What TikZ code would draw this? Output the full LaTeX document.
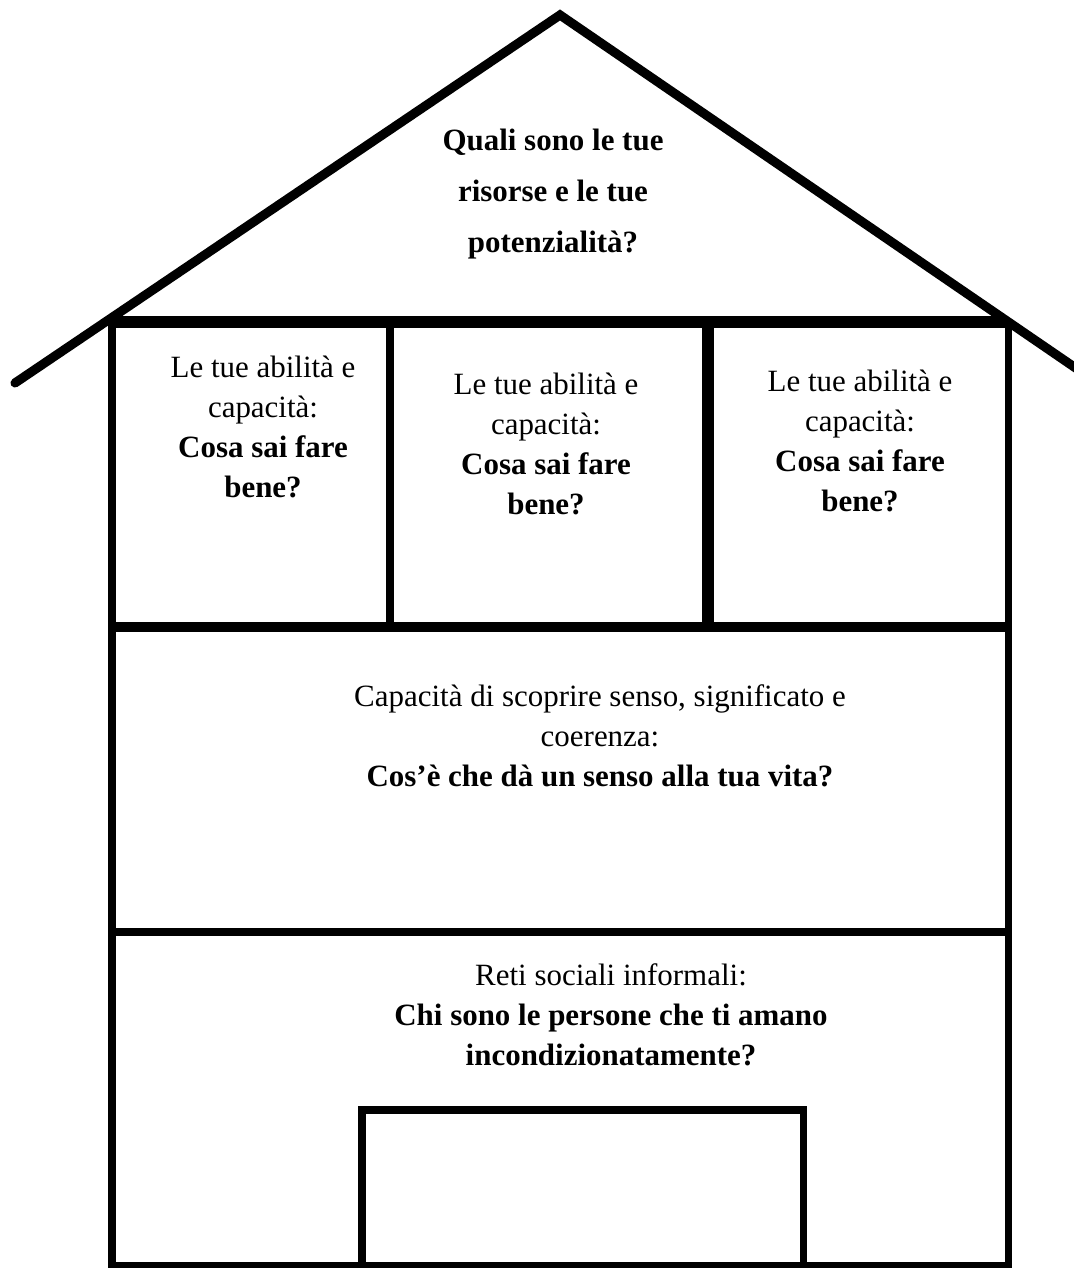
\documentclass[tikz,border=0pt]{standalone}
\usepackage{fontspec}
\setmainfont{Liberation Serif}
\usepackage{tikz}
\usetikzlibrary{positioning}
\tikzset{
  roof/.style={draw=black,line width=2.6pt,line cap=round,line join=miter},
  wall/.style={draw=black,line width=2pt},
  beam/.style={draw=black,line width=3.4pt},
  floorline/.style={draw=black,line width=2.6pt},
  ask/.style={align=center,inner sep=0pt,font=\fontsize{8.8}{11.3}\selectfont},
  roofask/.style={align=center,inner sep=0pt,font=\fontsize{8.8}{14.5}\selectfont\bfseries}
}

\begin{document}
\begin{tikzpicture}[x=0.01cm,y=-0.01cm]
  \useasboundingbox (0,0) rectangle (1073,1268);
  % corners of the house
  \coordinate (apex) at (560,15);
  \coordinate (eaveL) at (15,383);
  \coordinate (eaveR) at (1080,371);
  \coordinate (tl) at (112,322);
  \coordinate (tr) at (1008,322);
  \coordinate (bl) at (112,1266);
  \coordinate (br) at (1008,1266);
  \coordinate (m1) at (390,322);
  \coordinate (m2) at (708,322);
  \coordinate (d1) at (362,1266);
  \coordinate (d2) at (803,1266);

  % walls and roof
  \draw[wall] (tl) -- (bl) -- (br) -- (tr);
  \draw[roof] (eaveL) -- (apex) -- (eaveR);
  \draw[beam] (tl) -- (tr);
  \draw[floorline] (112,627) -- (1008,627);
  \draw[wall,line width=2.3pt] (112,932) -- (1008,932);
  \draw[wall] (m1) -- (m1 |- 0,627);
  \draw[beam] (m2) -- (m2 |- 0,627);
  % door
  \draw[wall] (d1) -- (362,1110) -- (803,1110) -- (d2);

  % texts
  \node[roofask] (res) at (553,194) {Quali sono le tue\\risorse e le tue\\potenzialità?};
  \node[ask] (abA) at (263,427) {Le tue abilità e\\capacità:\\\textbf{Cosa sai fare}\\\textbf{bene?}};
  \node[ask] (abB) at (546,444) {Le tue abilità e\\capacità:\\\textbf{Cosa sai fare}\\\textbf{bene?}};
  \node[ask] (abC) at (860,441) {Le tue abilità e\\capacità:\\\textbf{Cosa sai fare}\\\textbf{bene?}};
  \node[ask] (senso) at (600,736) {Capacità di scoprire senso, significato e\\coerenza:\\\textbf{Cos’è che dà un senso alla tua vita?}};
  \node[ask] (reti) at (611,1015) {Reti sociali informali:\\\textbf{Chi sono le persone che ti amano}\\\textbf{incondizionatamente?}};
\end{tikzpicture}
\end{document}
